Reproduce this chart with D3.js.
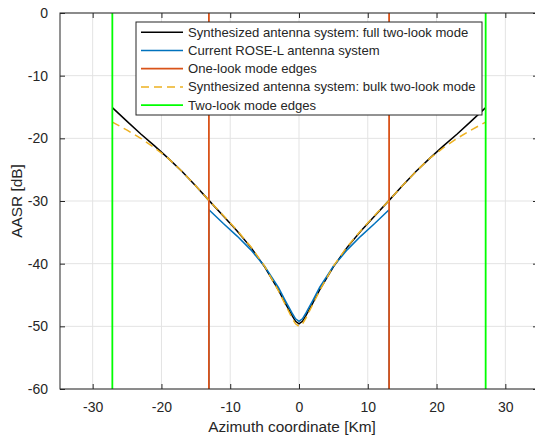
<!DOCTYPE html>
<html><head><meta charset="utf-8">
<script src="https://cdn.jsdelivr.net/npm/d3@7"></script>
<style>body{margin:0;background:#fff;}svg{display:block;font-family:"Liberation Sans",Arial,Helvetica,sans-serif;}</style>
</head><body><svg id="c" width="535" height="439"></svg>
<script>
// ---- data ----
const fullX = [-27.14,-25,-23,-21,-19,-17,-15,-13.1,-11,-9,-7,-5,-3,-2,-1,-0.5,0,0.5,1,2,3,5,7,9,11,13.1,15,17,19,21,23,25,27.14];
const fullY = [-15.1,-17.3,-19.3,-21.2,-23.2,-25.3,-27.6,-29.9,-32.4,-34.8,-37.4,-40.5,-44.2,-46.3,-48.3,-49.2,-49.6,-49.2,-48.3,-46.3,-44.2,-40.5,-37.4,-34.8,-32.4,-29.9,-27.6,-25.3,-23.2,-21.2,-19.3,-17.3,-15.1];
const bulkX = [-27.14,-25,-23,-21,-19,-17,-15,-13.1,-11,-9,-7,-5,-3,-2,-1,-0.5,0,0.5,1,2,3,5,7,9,11,13.1,15,17,19,21,23,25,27.14];
const bulkY = [-17.4,-18.7,-20.0,-21.5,-23.2,-25.3,-27.6,-29.9,-32.3,-34.7,-37.3,-40.4,-44.3,-46.5,-48.7,-49.6,-50.0,-49.6,-48.7,-46.5,-44.3,-40.4,-37.3,-34.7,-32.3,-29.9,-27.6,-25.3,-23.2,-21.5,-20.0,-18.7,-17.4];
const roseX = [-13.1,-13.1,-11,-9,-7,-5,-3,-2,-1,-0.5,0,0.5,1,2,3,5,7,9,11,13.1,13.1];
const roseY = [-60,-31.4,-33.6,-35.6,-37.8,-40.4,-43.8,-45.9,-47.9,-48.8,-49.2,-48.8,-47.9,-45.9,-43.8,-40.4,-37.8,-35.6,-33.6,-31.4,-60];
const oneLookEdges = [-13.1, 13.1];
const twoLookEdges = [-27.14, 27.14];
const xTicks = [-30,-20,-10,0,10,20,30];
const yTicks = [0,-10,-20,-30,-40,-50,-60];
const legendLabels = ["Synthesized antenna system: full two-look mode","Current ROSE-L antenna system","One-look mode edges","Synthesized antenna system: bulk two-look mode","Two-look mode edges"];
const colors = {full:"#000000", rose:"#0072BD", one:"#D95319", bulk:"#EDB120", two:"#00FF00"};

// ---- layout ----
const svg = d3.select("#c");
const L=60, R=538, T=13, B=389;
const x = d3.scaleLinear().domain([-34.75,34.75]).range([L,R]);
const y = d3.scaleLinear().domain([-60,0]).range([B,T]);
const axisCol="#262626", gridCol="#e3e3e3";
const fmt = d => String(d);

svg.append("defs").append("clipPath").attr("id","clip").append("rect").attr("x",L).attr("y",T).attr("width",R-L).attr("height",B-T);

// grid
const g = svg.append("g");
g.selectAll(".gx").data(xTicks).enter().append("line").attr("x1",d=>x(d)).attr("x2",d=>x(d)).attr("y1",T).attr("y2",B).attr("stroke",gridCol).attr("stroke-width",1);
g.selectAll(".gy").data(yTicks).enter().append("line").attr("y1",d=>y(d)).attr("y2",d=>y(d)).attr("x1",L).attr("x2",R).attr("stroke",gridCol).attr("stroke-width",1);

// lines
const plot = svg.append("g").attr("clip-path","url(#clip)");
const line = d3.line().x(d=>x(d[0])).y(d=>y(d[1]));
const zip = (a,b)=>a.map((v,i)=>[v,b[i]]);
plot.append("path").attr("d",line(zip(fullX,fullY))).attr("fill","none").attr("stroke",colors.full).attr("stroke-width",1.5);
plot.append("path").attr("d",line(zip(roseX,roseY))).attr("fill","none").attr("stroke",colors.rose).attr("stroke-width",1.5);
oneLookEdges.forEach(e=>plot.append("line").attr("x1",x(e)).attr("x2",x(e)).attr("y1",T).attr("y2",B).attr("stroke",colors.one).attr("stroke-width",1.8));
plot.append("path").attr("d",line(zip(bulkX,bulkY))).attr("fill","none").attr("stroke",colors.bulk).attr("stroke-width",1.5).attr("stroke-dasharray","8,5");
twoLookEdges.forEach(e=>plot.append("line").attr("x1",x(e)).attr("x2",x(e)).attr("y1",T).attr("y2",B).attr("stroke",colors.two).attr("stroke-width",1.8));

// axes (box)
const ax = svg.append("g");
ax.append("rect").attr("x",L).attr("y",T).attr("width",R-L).attr("height",B-T).attr("fill","none").attr("stroke",axisCol).attr("stroke-width",1);
const axB = ax.append("g").attr("transform",`translate(0,${B})`).call(d3.axisBottom(x).tickValues(xTicks).tickSize(-5).tickPadding(13).tickFormat(fmt));
const axT = ax.append("g").attr("transform",`translate(0,${T})`).call(d3.axisTop(x).tickValues(xTicks).tickSize(-5).tickFormat(""));
const axL = ax.append("g").attr("transform",`translate(${L},0)`).call(d3.axisLeft(y).tickValues(yTicks).tickSize(-5).tickPadding(12).tickFormat(fmt));
const axR = ax.append("g").attr("transform",`translate(${R},0)`).call(d3.axisRight(y).tickValues(yTicks).tickSize(-5).tickFormat(""));
[axB,axT,axL,axR].forEach(a=>{a.select(".domain").remove();a.selectAll("line").attr("stroke",axisCol);a.selectAll("text").attr("fill","#262626").style("font-size","14px").style("font-family","'Liberation Sans',Arial,sans-serif");});

svg.append("text").attr("x",x(0)-7).attr("y",432).attr("text-anchor","middle").attr("fill","#262626").style("font-size","15.4px").text("Azimuth coordinate [Km]");
svg.append("text").attr("transform",`translate(22,${(T+B)/2}) rotate(-90)`).attr("text-anchor","middle").attr("fill","#262626").style("font-size","15.4px").text("AASR [dB]");

// legend
const lg = svg.append("g");
lg.append("rect").attr("x",136).attr("y",22).attr("width",346).attr("height",93).attr("fill","#fff").attr("stroke",axisCol).attr("stroke-width",1);
const lcol=[colors.full,colors.rose,colors.one,colors.bulk,colors.two];
const lw=[1.5,1.5,1.8,1.5,1.8];
legendLabels.forEach((t,i)=>{
  const yy = 32.3 + i*18.2;
  const ln = lg.append("line").attr("x1",141).attr("x2",183).attr("y1",yy).attr("y2",yy).attr("stroke",lcol[i]).attr("stroke-width",lw[i]);
  if(i===3) ln.attr("stroke-dasharray","8,5");
  lg.append("text").attr("x",188).attr("y",yy).attr("dy","0.35em").attr("fill","#262626").style("font-size","13.1px").text(t);
});
</script></body></html>
